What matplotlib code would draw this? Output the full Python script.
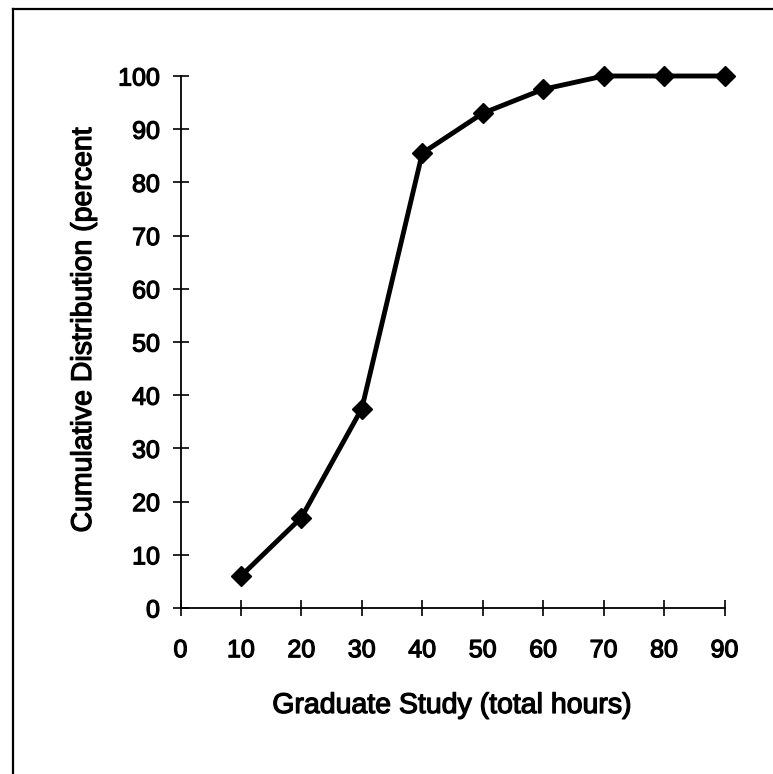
import matplotlib
matplotlib.use("Agg")
import matplotlib.pyplot as plt
from matplotlib.lines import Line2D
import matplotlib.patheffects as pe

# Data
hours = [10, 20, 30, 40, 50, 60, 70, 80, 90]
cumulative_pct = [6, 17, 37.5, 85.5, 93, 97.5, 100, 100, 100]
x_ticks = [0, 10, 20, 30, 40, 50, 60, 70, 80, 90]
y_ticks = [0, 10, 20, 30, 40, 50, 60, 70, 80, 90, 100]
x_label = "Graduate Study (total hours)"
y_label = "Cumulative Distribution (percent"

plt.rcParams['font.family'] = ['Liberation Sans', 'DejaVu Sans']

W, H = 773, 774
fig = plt.figure(figsize=(W / 100, H / 100), dpi=100)
fig.patch.set_facecolor('white')

# outer frame (only left and top visible)
fx = 13 / W
fy = 1 - 9 / H
fig.add_artist(Line2D([fx, fx], [0, fy], transform=fig.transFigure, color='black', lw=1.6))
fig.add_artist(Line2D([fx, 1], [fy, fy], transform=fig.transFigure, color='black', lw=1.6))

left, right, bottom, top = 180.5, 724.5, 608, 76
ax = fig.add_axes([left / W, 1 - bottom / H, (right - left) / W, (bottom - top) / H])

ax.plot(hours, cumulative_pct, color='black', lw=3.5, marker='D', markersize=10.5,
        markerfacecolor='black', markeredgecolor='black', clip_on=False, zorder=3)

ax.set_xlim(0, 90)
ax.set_ylim(0, 100)
ax.set_xticks(x_ticks)
ax.set_yticks(y_ticks)

for s in ['top', 'right']:
    ax.spines[s].set_visible(False)
for s in ['left', 'bottom']:
    ax.spines[s].set_linewidth(1.3)

ax.tick_params(axis='both', direction='inout', length=11.5, width=1.2, labelsize=18)
ax.tick_params(axis='x', pad=16)
ax.tick_params(axis='y', pad=9)

thick = [pe.withStroke(linewidth=0.9, foreground='black')]
for lab in ax.get_xticklabels() + ax.get_yticklabels():
    lab.set_path_effects(thick)

ax.set_xlabel(x_label, fontsize=20.5, path_effects=thick)
ax.set_ylabel(y_label, fontsize=20.5, path_effects=thick)
ax.xaxis.set_label_coords(452 / W, 1 - 706 / H, transform=fig.transFigure)
ax.xaxis.label.set_va('center')
ax.yaxis.set_label_coords(84 / W, 1 - 330 / H, transform=fig.transFigure)
ax.yaxis.label.set_va('center')
ax.yaxis.label.set_rotation_mode('default')

fig.savefig('out.png', dpi=100)
